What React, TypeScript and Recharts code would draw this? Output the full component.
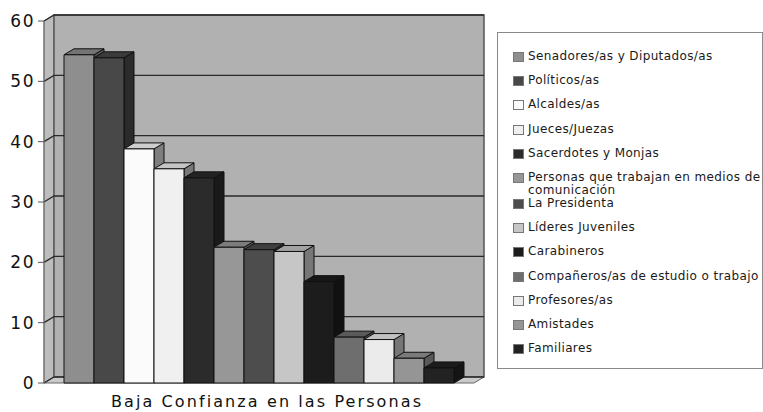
import React from "react";
import {
  Bar,
  BarChart,
  CartesianGrid,
  Legend,
  XAxis,
  YAxis,
} from "recharts";

const CATEGORY = "Baja Confianza en las Personas";

const GROUPS = [
  "Senadores/as y Diputados/as",
  "Políticos/as",
  "Alcaldes/as",
  "Jueces/Juezas",
  "Sacerdotes y Monjas",
  "Personas que trabajan en medios de comunicación",
  "La Presidenta",
  "Líderes Juveniles",
  "Carabineros",
  "Compañeros/as de estudio o trabajo",
  "Profesores/as",
  "Amistades",
  "Familiares",
];

const VALUES = [54.4, 53.9, 38.8, 35.5, 34.0, 22.5, 22.1, 21.8, 16.8, 7.6, 7.2, 4.1, 2.5];

const FILLS = [
  "#8e8e8e",
  "#484848",
  "#fbfbfb",
  "#f0f0f0",
  "#2b2b2b",
  "#979797",
  "#4d4d4d",
  "#c6c6c6",
  "#1c1c1c",
  "#6e6e6e",
  "#ebebeb",
  "#959595",
  "#222222",
];

const Y_TICKS = [0, 10, 20, 30, 40, 50, 60];

// depth of the fake 3d effect
const DX = 10;
const DY = -6;

const FONT = "'DejaVu Sans', Verdana, sans-serif";

const row: Record<string, string | number> = { name: CATEGORY };
GROUPS.forEach((_, i) => {
  row["s" + i] = VALUES[i];
});
const data = [row];

function shade(hex: string, k: number) {
  const n = parseInt(hex.slice(1), 16);
  const r = Math.round(((n >> 16) & 255) * k);
  const g = Math.round(((n >> 8) & 255) * k);
  const b = Math.round((n & 255) * k);
  return `rgb(${r},${g},${b})`;
}

function Bar3D(props: any) {
  const { x, y, width, height, fill } = props;
  if (!width || height == null) return null;
  const top = shade(fill, 0.82);
  const side = fill > "#d00000" ? shade(fill, 0.5) : shade(fill, 0.6);
  return (
    <g stroke="#111" strokeWidth={1} strokeLinejoin="round">
      <polygon
        points={`${x + width},${y} ${x + width + DX},${y + DY} ${x + width + DX},${y + height + DY} ${x + width},${y + height}`}
        fill={side}
      />
      <polygon
        points={`${x},${y} ${x + DX},${y + DY} ${x + width + DX},${y + DY} ${x + width},${y}`}
        fill={top}
      />
      <rect x={x} y={y} width={width} height={height} fill={fill} />
    </g>
  );
}

// grid lines drawn on the back wall, the first call also paints the walls
function GridLine3D(props: any) {
  const { x1, y1, x2, index, x, y, width, height } = props;
  const walls =
    index === 0 ? (
      <g>
        <polygon
          points={`${x},${y} ${x + DX},${y + DY} ${x + DX},${y + height + DY} ${x},${y + height}`}
          fill="#bdbdbd"
          stroke="#666"
        />
        <rect
          x={x + DX}
          y={y + DY}
          width={width}
          height={height}
          fill="#b1b1b1"
          stroke="#555"
          strokeWidth={1.5}
        />
        <polygon
          points={`${x},${y + height} ${x + width},${y + height} ${x + width + DX},${y + height + DY} ${x + DX},${y + height + DY}`}
          fill="#cacaca"
          stroke="#666"
        />
      </g>
    ) : null;
  return (
    <g key={"g" + index}>
      {walls}
      <polyline
        points={`${x1},${y1} ${x1 + DX},${y1 + DY} ${x2 + DX},${y1 + DY}`}
        fill="none"
        stroke="#2a2a2a"
        strokeWidth={1.3}
      />
    </g>
  );
}

function LegendBox(props: any) {
  const items = [...(props.payload || [])].sort(
    (a: any, b: any) => GROUPS.indexOf(a.value) - GROUPS.indexOf(b.value)
  );
  return (
    <div
      style={{
        boxSizing: "border-box",
        width: 266,
        height: 337,
        border: "1px solid #8a8a8a",
        background: "#fff",
        paddingTop: 17,
        fontFamily: FONT,
        fontSize: 12,
        letterSpacing: 0.38,
        color: "#1a1a1a",
      }}
    >
      {items.map((it: any, i: number) => (
        <div
          key={i}
          style={{
            height: i === 5 ? 26 : 24.2,
            lineHeight: "13px",
            display: "flex",
            alignItems: "flex-start",
            paddingLeft: 15,
          }}
        >
          <span
            style={{
              display: "inline-block",
              boxSizing: "border-box",
              width: 11,
              height: 10,
              marginTop: 2,
              marginRight: 4,
              flex: "none",
              background: it.color,
              border: "1px solid #777",
            }}
          />
          <span style={{ width: 234, flex: "none" }}>{it.value}</span>
        </div>
      ))}
    </div>
  );
}

export default function App() {
  return (
    <div
      style={{
        position: "absolute",
        left: 0,
        top: 0,
        width: 763,
        height: 412,
        background: "#fff",
      }}
    >
      <BarChart
        width={763}
        height={412}
        data={data}
        margin={{ top: 21, right: 289, bottom: 0, left: 0 }}
        barCategoryGap={20}
        barGap={0}
      >
        <CartesianGrid vertical={false} horizontal={GridLine3D} />
        <XAxis
          dataKey="name"
          height={29}
          axisLine={false}
          tickLine={false}
          tick={{
            fill: "#111",
            fontSize: 16,
            fontFamily: FONT,
            letterSpacing: 2.1,
            dx: 8,
            dy: 5,
          }}
        />
        <YAxis
          width={44}
          domain={[0, 60]}
          ticks={Y_TICKS}
          interval={0}
          axisLine={{ stroke: "#777" }}
          tickLine={{ stroke: "#555" }}
          tickSize={6}
          tickMargin={3}
          tick={{
            fill: "#111",
            fontSize: 17,
            fontFamily: FONT,
            letterSpacing: 1.5,
          }}
        />
        <Legend
          layout="vertical"
          align="center"
          verticalAlign="middle"
          content={LegendBox}
          wrapperStyle={{ left: 497, top: 32, width: 266, height: 337 }}
        />
        {GROUPS.map((g, i) => (
          <Bar
            key={g}
            dataKey={"s" + i}
            name={g}
            fill={FILLS[i]}
            shape={Bar3D}
            isAnimationActive={false}
          />
        ))}
      </BarChart>
    </div>
  );
}
